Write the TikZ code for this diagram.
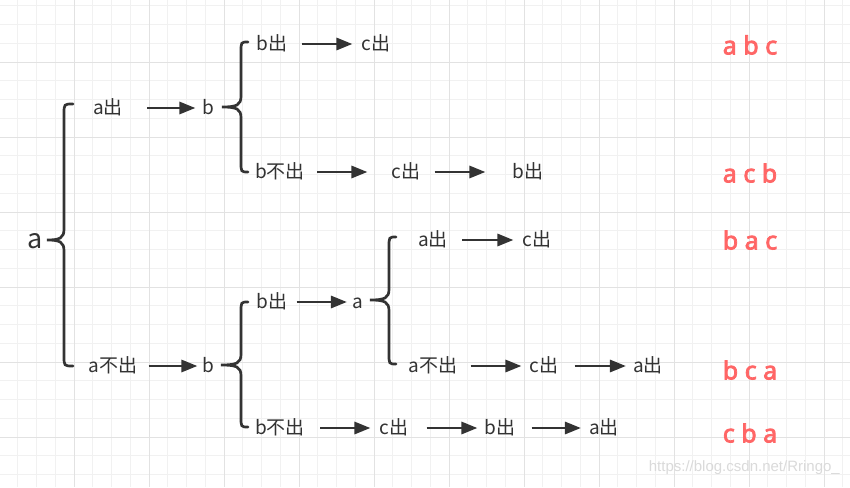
\documentclass[tikz,border=0pt]{standalone}
\usepackage{fontspec}
\setmainfont{Noto Sans CJK SC}
\newfontfamily\redfont{Noto Sans}[FakeBold=3]
\newfontfamily\wmfont{Liberation Sans}
\usetikzlibrary{arrows.meta}
\definecolor{ink}{HTML}{333333}
\definecolor{redl}{HTML}{FF6666}
\definecolor{gminor}{HTML}{F1F1F1}
\definecolor{gmajor}{HTML}{E2E2E2}
\definecolor{wmc}{HTML}{DADADA}
% curly brace: tip x, tip y, vertical x, end x, top y, bottom y
\newcommand\curlyb[6]{%
  \draw[brc] (#4,#5) .. controls (#3,#5) .. (#3,#5+10) -- (#3,#2-11)
    .. controls (#3,#2-2) and (#3-4,#2) .. (#1,#2)
    .. controls (#3-4,#2) and (#3,#2+2) .. (#3,#2+11) -- (#3,#6-10)
    .. controls (#3,#6) .. (#4,#6);}
\begin{document}
\begin{tikzpicture}[x=1pt,y=-1pt,
  lbl/.style={font=\fontsize{19}{19}\selectfont, text=ink, inner sep=0pt,
              text height=1.3em, text depth=0.05em},
  big/.style={font=\fontsize{27}{27}\selectfont, text=ink, inner sep=0pt},
  res/.style={font=\redfont\fontsize{25}{25}\selectfont, text=redl, inner sep=0pt},
  arr/.style={draw=ink, line width=2.9pt, -{Triangle[length=16pt,width=12pt]}},
  brc/.style={draw=ink, line width=2.7pt, line cap=round},
  gmin/.style={draw=gminor, line width=1pt},
  gmaj/.style={draw=gmajor, line width=1pt}]
\useasboundingbox (0,0) rectangle (850,487);
\begin{scope}
  \clip (0,0) rectangle (850,487);
  \fill[white] (0,0) rectangle (850,487);
  \foreach \i in {0,...,46} {\draw[gmin] (-1+18.75*\i,0) -- (-1+18.75*\i,487);}
  \foreach \j in {0,...,27} {\draw[gmin] (0,-13+18.75*\j) -- (850,-13+18.75*\j);}
  \foreach \i in {0,...,12} {\draw[gmaj] (-1+75*\i,0) -- (-1+75*\i,487);}
  \foreach \j in {0,...,7} {\draw[gmaj] (0,-13+75*\j) -- (850,-13+75*\j);}
\end{scope}

% nodes
\node[big] (a0) at (35,241) {a};
\node[lbl] (a1) at (108,108) {a出};
\node[lbl] (b1) at (208.5,108) {b};
\node[lbl] (b1y) at (272,44) {b出};
\node[lbl] (c1) at (376,44) {c出};
\node[lbl] (b1n) at (280,172) {b不出};
\node[lbl] (c2) at (406,172) {c出};
\node[lbl] (b2) at (528,172) {b出};
\node[lbl] (a1n) at (113,366) {a不出};
\node[lbl] (b3) at (208.5,366) {b};
\node[lbl] (b3y) at (272,302) {b出};
\node[lbl] (a3) at (357.5,302) {a};
\node[lbl] (a4y) at (433,240) {a出};
\node[lbl] (c4) at (537,240) {c出};
\node[lbl] (a4n) at (433,366) {a不出};
\node[lbl] (c5) at (544,366) {c出};
\node[lbl] (a5) at (648,366) {a出};
\node[lbl] (b3n) at (280,428) {b不出};
\node[lbl] (c6) at (394,428) {c出};
\node[lbl] (b6) at (500,428) {b出};
\node[lbl] (a6) at (604,428) {a出};

% results
\node[res] (r1) at (750,45) {a b c};
\node[res] (r2) at (750,173) {a c b};
\node[res] (r3) at (750,240) {b a c};
\node[res] (r4) at (750,370) {b c a};
\node[res] (r5) at (750,433) {c b a};

% braces
\curlyb{47}{240}{64}{73}{104}{366}
\curlyb{222}{107}{241}{248}{42}{172}
\curlyb{221}{365}{241}{248}{302}{427}
\curlyb{370}{300}{389}{396}{237}{364}

% arrows
\draw[arr, shorten <=24pt, shorten >=7pt] (a1) -- (b1);
\draw[arr, shorten <=14pt, shorten >=9pt] (b1y) -- (c1);
\draw[arr, shorten <=12pt, shorten >=24pt] (b1n) -- (c2);
\draw[arr, shorten <=14pt, shorten >=27pt] (c2) -- (b2);
\draw[arr, shorten <=11pt, shorten >=5pt] (a1n) -- (b3);
\draw[arr, shorten <=9pt, shorten >=5pt] (b3y) -- (a3);
\draw[arr, shorten <=14pt, shorten >=9pt] (a4y) -- (c4);
\draw[arr, shorten <=13pt, shorten >=8pt] (a4n) -- (c5);
\draw[arr, shorten <=16pt, shorten >=7pt] (c5) -- (a5);
\draw[arr, shorten <=15pt, shorten >=9pt] (b3n) -- (c6);
\draw[arr, shorten <=18pt, shorten >=7pt] (c6) -- (b6);
\draw[arr, shorten <=16pt, shorten >=8pt] (b6) -- (a6);

% watermark
\node[font=\wmfont\fontsize{15}{15}\selectfont, text=wmc, anchor=east, inner sep=0pt]
  (wm) at (840,468) {https://blog.csdn.net/Rringo\_};
\end{tikzpicture}
\end{document}
